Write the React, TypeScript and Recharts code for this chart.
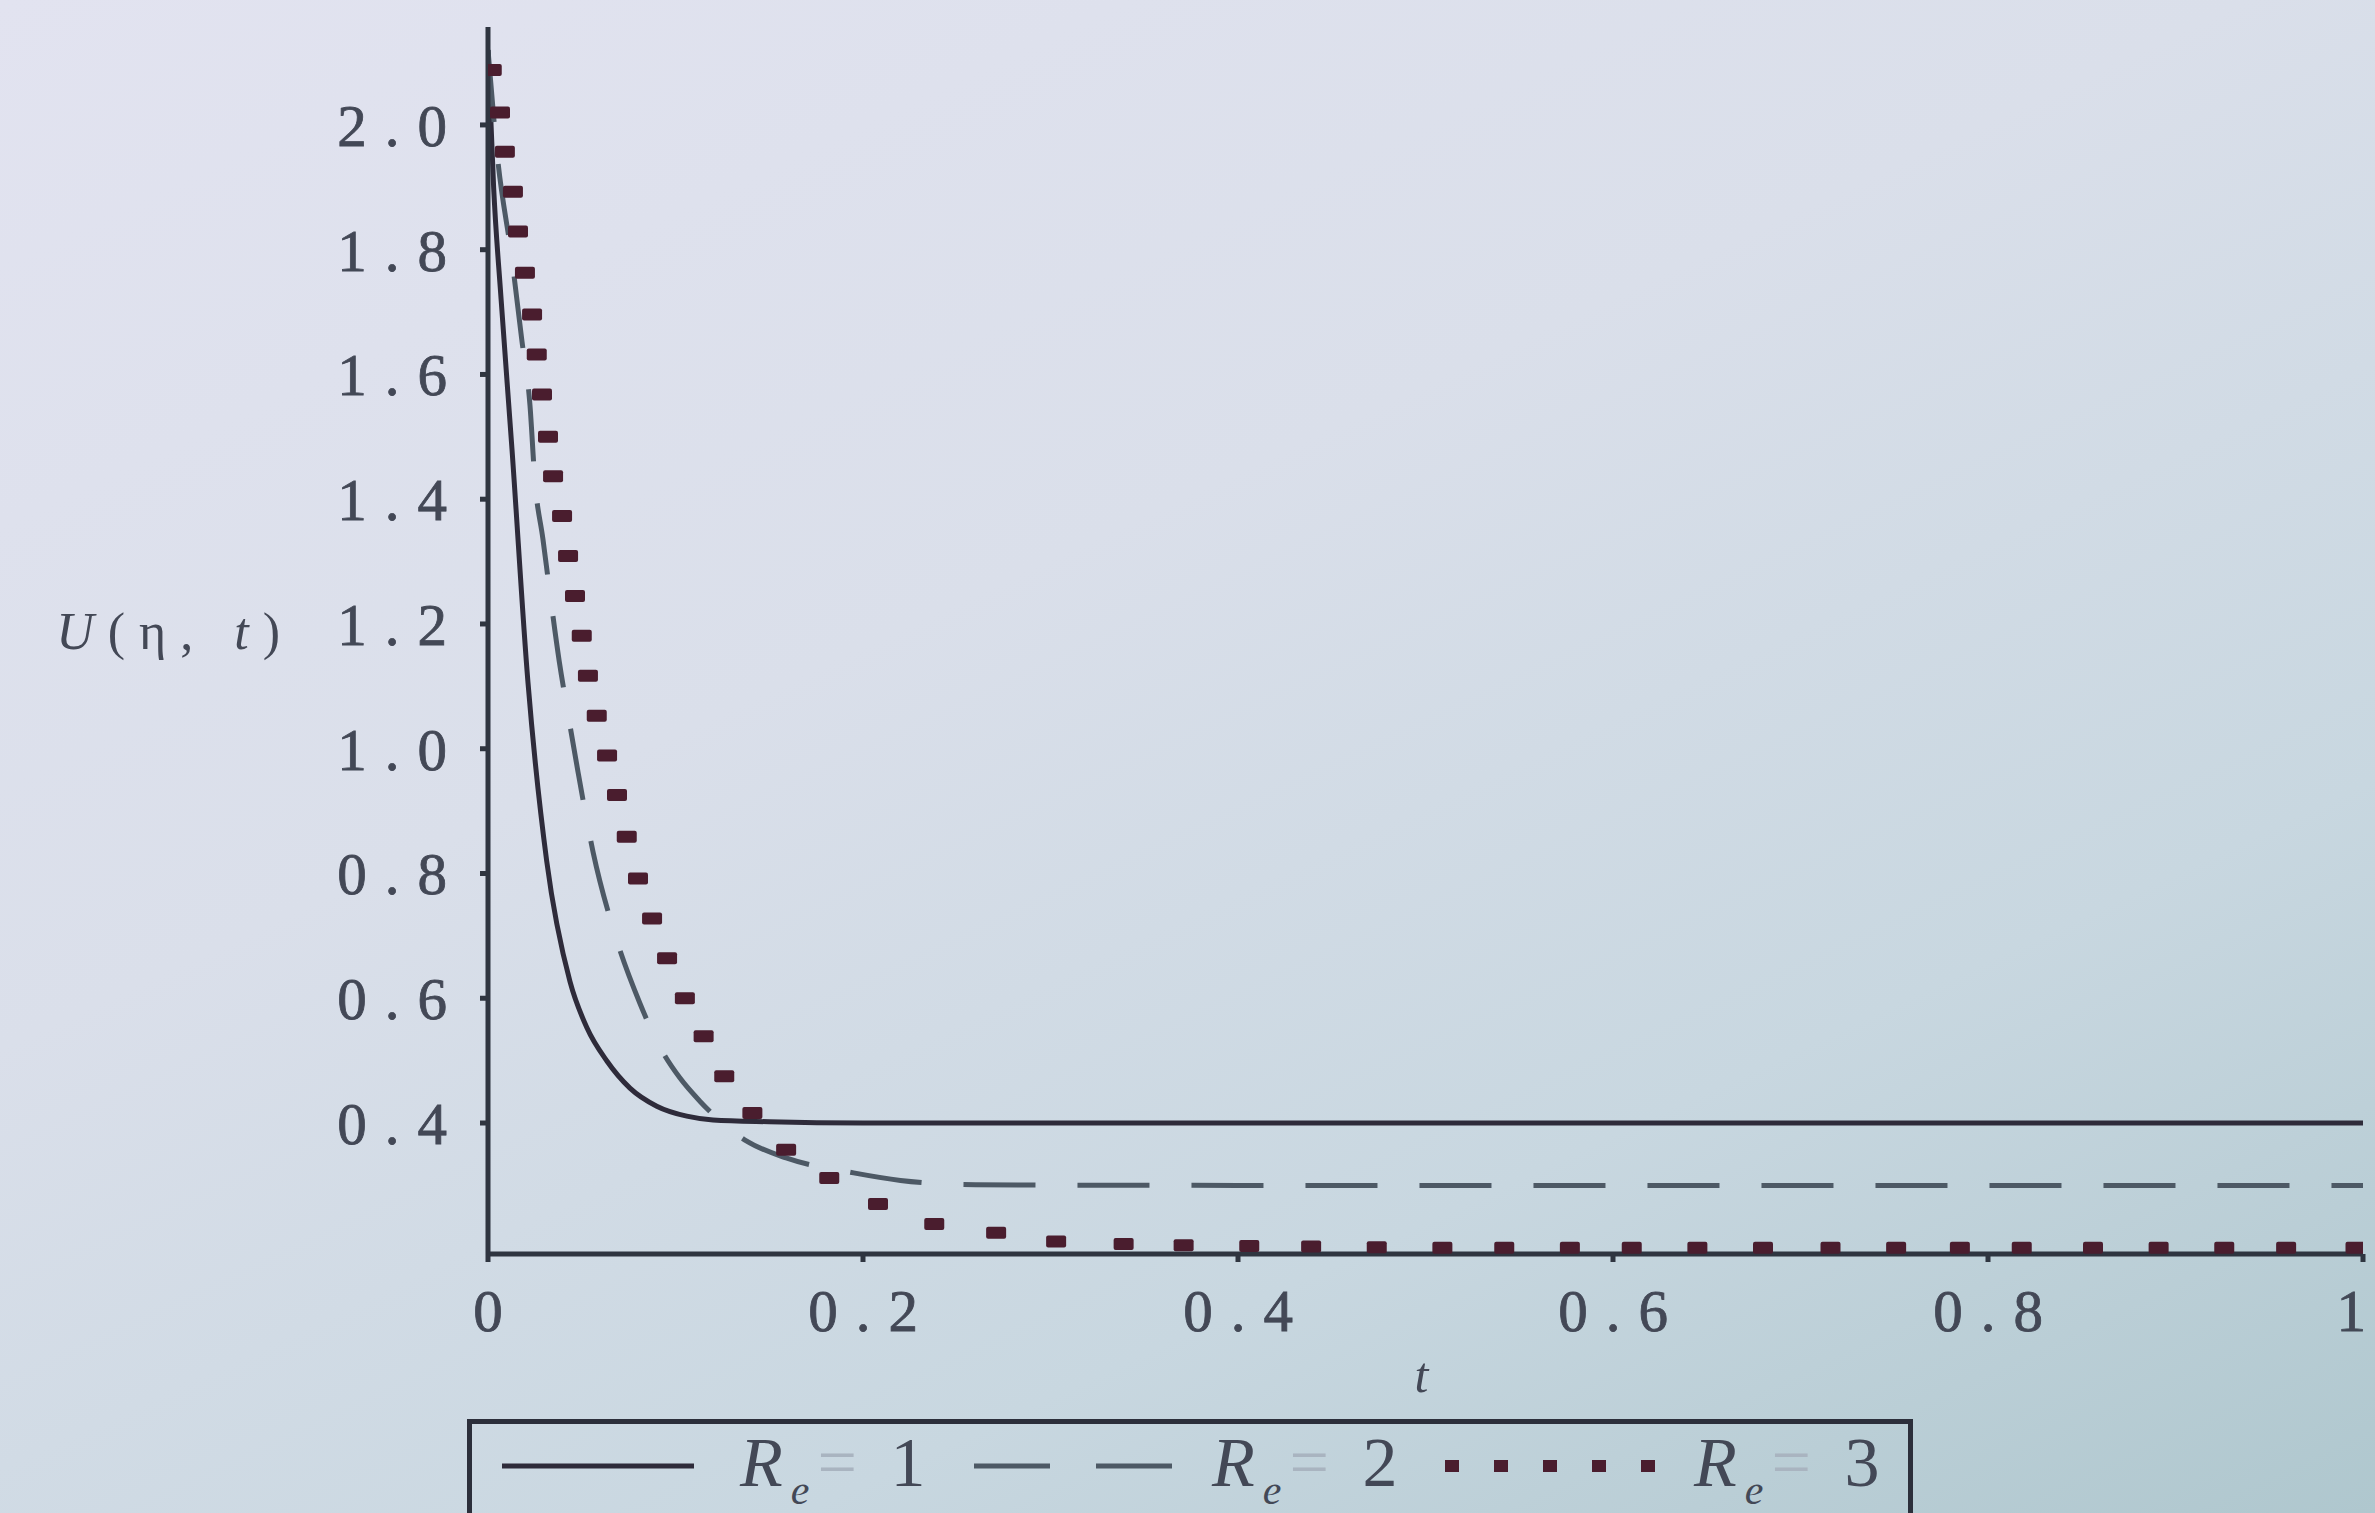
import React from 'react';
import { LineChart, Line, XAxis, YAxis } from 'recharts';

// U(eta, t) against t for three values of R_e

const W = 2375;
const H = 1513;

const tRe1 = [0, 0.003, 0.007, 0.0128, 0.0213, 0.0313, 0.0437, 0.0527, 0.0635, 0.0757, 0.09, 0.106, 0.12, 0.15, 0.2, 0.4, 0.6, 0.8, 1];
const uRe1 = [2.12, 1.9, 1.72, 1.48, 1.107, 0.82, 0.627, 0.553, 0.499, 0.456, 0.427, 0.411, 0.405, 0.402, 0.4, 0.4, 0.4, 0.4, 0.4];

const tRe2 = [0, 0.005, 0.0128, 0.018, 0.0224, 0.025, 0.0293, 0.033, 0.038, 0.043, 0.048, 0.056, 0.0667, 0.081, 0.092, 0.1024, 0.113, 0.125, 0.138, 0.159, 0.195, 0.22, 0.26, 0.4, 0.6, 0.8, 1];
const uRe2 = [2.12, 1.95, 1.784, 1.656, 1.55, 1.43, 1.336, 1.25, 1.14, 1.05, 0.963, 0.835, 0.712, 0.592, 0.52, 0.472, 0.435, 0.4, 0.371, 0.344, 0.32, 0.308, 0.301, 0.3, 0.3, 0.3, 0.3];

// R_e = 3 is plotted as points
const tRe3 = [
  0.002, 0.0064, 0.009, 0.0133, 0.016, 0.0197, 0.0235, 0.026, 0.0288, 0.032,
  0.0347, 0.0395, 0.0427, 0.0464, 0.05, 0.0533, 0.058, 0.0635, 0.0688, 0.074,
  0.08, 0.0875, 0.0955, 0.105, 0.115, 0.126, 0.141, 0.159, 0.182, 0.208,
  0.238, 0.271, 0.303, 0.339, 0.371, 0.406, 0.439, 0.474, 0.509, 0.542,
  0.577, 0.61, 0.645, 0.68, 0.716, 0.751, 0.785, 0.818, 0.856, 0.891,
  0.926, 0.959, 0.996,
];
const uRe3 = [
  2.088, 2.02, 1.957, 1.893, 1.829, 1.763, 1.696, 1.632, 1.568, 1.5,
  1.437, 1.373, 1.309, 1.245, 1.181, 1.117, 1.053, 0.989, 0.926, 0.859,
  0.792, 0.728, 0.664, 0.6, 0.539, 0.475, 0.416, 0.357, 0.312, 0.27,
  0.238, 0.224, 0.21, 0.206, 0.204, 0.203, 0.202, 0.201, 0.2, 0.2,
  0.2, 0.2, 0.2, 0.2, 0.2, 0.2, 0.2, 0.2, 0.2, 0.2,
  0.2, 0.2, 0.2,
];

const xTicks = [0, 0.2, 0.4, 0.6, 0.8, 1];
const yTicks = [0.4, 0.6, 0.8, 1.0, 1.2, 1.4, 1.6, 1.8, 2.0];
const yDomain = [0.19, 2.157];

const zip = (ts: number[], us: number[]) => ts.map((t, i) => ({ t, u: us[i] }));

const solidInk = '#2e2b3a';
const dashInk = '#4d5965';
const dotInk = '#4a1d2e';

const serif = '"Liberation Serif", "DejaVu Serif", serif';
const inkText = '#434856';
const axisInk = '#2f3540';

const tickStyle = {
  fontFamily: serif,
  fontSize: 59,
  fill: inkText,
  stroke: inkText,
  strokeWidth: 0.8,
  letterSpacing: 18,
};

function fmtX(v: number) {
  if (v === 0) return '0';
  if (v === 1) return '1';
  return v.toFixed(1);
}

function PointMark(props: any) {
  const { cx, cy, index } = props;
  if (cx == null || cy == null) return <g key={index} />;
  return <rect key={index} x={cx - 10} y={cy - 6} width={20} height={12} rx={2} fill={dotInk} />;
}

function YLabel(props: any) {
  const vb = props.viewBox;
  return (
    <text
      x={vb.x + 6}
      y={vb.y + vb.height / 2 + 8}
      textAnchor="end"
      fontFamily={serif}
      fontSize={52}
      fill={inkText}
      letterSpacing={14}
    >
      <tspan fontStyle="italic">U</tspan>
      <tspan>(η, </tspan>
      <tspan fontStyle="italic">t</tspan>
      <tspan>)</tspan>
    </text>
  );
}

function XLabel(props: any) {
  const vb = props.viewBox;
  return (
    <text
      x={vb.x + vb.width / 2 - 4}
      y={vb.y + 138}
      textAnchor="middle"
      fontFamily={serif}
      fontStyle="italic"
      fontSize={50}
      fill={inkText}
    >
      t
    </text>
  );
}

const legendItems = [
  { re: '1', x1: 30, x2: 222, tx: 268 },
  { re: '2', x1: 502, x2: 707, tx: 740 },
  { re: '3', x1: 980, x2: 1176, tx: 1222 },
];

function LegendSample({ i, x1, x2 }: { i: number; x1: number; x2: number }) {
  if (i === 2) {
    const n = 5;
    return (
      <g>
        {Array.from({ length: n }, (_, k) => {
          const cx = x1 + ((x2 - x1) * k) / (n - 1);
          return <rect key={k} x={cx - 7} y={36} width={14} height={12} fill={dotInk} />;
        })}
      </g>
    );
  }
  return (
    <line
      x1={x1}
      x2={x2}
      y1={42}
      y2={42}
      stroke={i === 0 ? solidInk : dashInk}
      strokeWidth={5}
      strokeDasharray={i === 1 ? '76 46' : undefined}
    />
  );
}

function LegendBox() {
  return (
    <div
      style={{
        position: 'absolute',
        left: 467,
        top: 1419,
        width: 1446,
        height: 140,
        border: '5px solid #2c2f3b',
        boxSizing: 'border-box',
      }}
    >
      <svg width={1436} height={130} style={{ display: 'block' }}>
        {legendItems.map((it, i) => (
          <g key={it.re}>
            <LegendSample i={i} x1={it.x1} x2={it.x2} />
            <text x={it.tx} y={62} fontFamily={serif} fontSize={70} fill={inkText} letterSpacing={8}>
              <tspan fontStyle="italic">R</tspan>
              <tspan fontStyle="italic" fontSize={42} dy={18}>e</tspan>
              <tspan dy={-18} fill="#a9b4c0">=</tspan>
              <tspan> {it.re}</tspan>
            </text>
          </g>
        ))}
      </svg>
    </div>
  );
}

export default function App() {
  return (
    <div
      style={{
        position: 'absolute',
        left: 0,
        top: 0,
        width: W,
        height: H,
        overflow: 'hidden',
        background: 'linear-gradient(155deg, #e2e3f0 0%, #dadfea 40%, #c8d7e0 72%, #afc7ce 100%)',
      }}
    >
      <LineChart width={W} height={H} margin={{ top: 27, right: 12, left: 288, bottom: 139 }}>
        <XAxis
          dataKey="t"
          type="number"
          domain={[0, 1]}
          ticks={xTicks}
          tickFormatter={fmtX}
          stroke={axisInk}
          strokeWidth={5}
          tickSize={8}
          tickMargin={27}
          height={120}
          tick={{ ...tickStyle, dx: 9 }}
          allowDataOverflow
          label={<XLabel />}
        />
        <YAxis
          type="number"
          domain={yDomain}
          ticks={yTicks}
          tickFormatter={(v: number) => v.toFixed(1)}
          stroke={axisInk}
          strokeWidth={5}
          tickSize={8}
          tickMargin={15}
          width={200}
          tick={tickStyle}
          allowDataOverflow
          label={<YLabel />}
        />
        <Line
          data={zip(tRe1, uRe1)}
          dataKey="u"
          type="monotone"
          stroke={solidInk}
          strokeWidth={5}
          dot={false}
          activeDot={false}
          isAnimationActive={false}
        />
        <Line
          data={zip(tRe2, uRe2)}
          dataKey="u"
          type="monotone"
          stroke={dashInk}
          strokeWidth={5}
          strokeDasharray="72 42"
          dot={false}
          activeDot={false}
          isAnimationActive={false}
        />
        <Line
          data={zip(tRe3, uRe3)}
          dataKey="u"
          type="linear"
          stroke="none"
          dot={PointMark}
          activeDot={false}
          isAnimationActive={false}
        />
      </LineChart>
      <LegendBox />
    </div>
  );
}
